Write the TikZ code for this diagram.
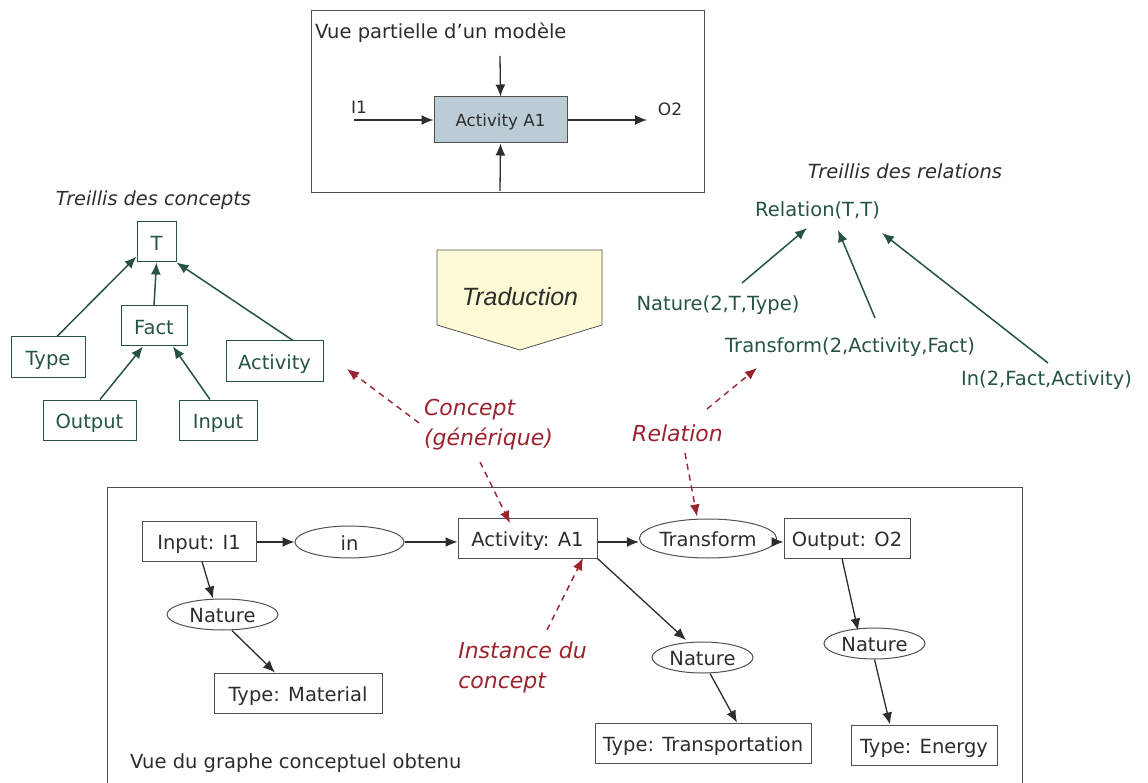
\documentclass[tikz,border=0pt]{standalone}
\usepackage{fontspec}
\setmainfont{DejaVu Sans}
\newfontfamily\arialf{Liberation Sans}
\usetikzlibrary{arrows.meta,shapes.geometric}
\definecolor{tgreen}{RGB}{38,84,64}
\definecolor{tred}{RGB}{155,35,45}
\definecolor{tgray}{RGB}{45,45,45}
\definecolor{bgray}{RGB}{80,80,80}
\definecolor{afill}{RGB}{187,204,213}
\definecolor{yfill}{RGB}{253,250,213}
\tikzset{
  fs/.style={font=\fontsize{19.5}{22}\selectfont},
  gbox/.style={draw=tgreen,line width=1pt,text=tgreen,fs,inner sep=0pt,minimum height=40pt,text height=17pt,text depth=0pt},
  gtext/.style={text=tgreen,fs,inner sep=0pt},
  garrow/.style={draw=tgreen,line width=1.5pt,-{Latex[length=12pt,width=10pt]}},
  bbox/.style={draw=bgray,line width=1pt,text=tgray,fs,inner sep=0pt,minimum height=40pt,text height=17pt,text depth=0pt},
  bell/.style={ellipse,draw=bgray,line width=1pt,text=tgray,fs,inner sep=0pt,text height=16pt,text depth=0pt},
  barrow/.style={draw=tgray,line width=1.3pt,-{Latex[length=12pt,width=10pt]}},
  rlabel/.style={text=tred,font=\fontsize{22}{30}\selectfont\itshape,inner sep=0pt,align=left},
  rarrow/.style={draw=tred,line width=1.4pt,dash pattern=on 6pt off 5pt,-{Latex[length=12pt,width=10pt]}},
  frame/.style={draw=bgray,line width=1pt},
}
\begin{document}
\begin{tikzpicture}[x=1pt,y=-1pt]
\useasboundingbox (0,0) rectangle (1148,783);

% ---------- top box ----------
\node[frame,minimum width=393pt,minimum height=182pt,inner sep=0pt] (topframe) at (507.5,102) {};
\node[anchor=west,text=tgray,fs,inner sep=0pt] (toptitle) at (315,33) {Vue partielle d’un modèle};
\node[draw=bgray,line width=1pt,fill=afill,text=tgray,font=\fontsize{16.7}{20}\selectfont,
      minimum width=133pt,minimum height=46pt,inner sep=0pt,text height=14pt,text depth=0pt] (A1box) at (500.5,120) {Activity A1};
\coordinate (topin) at (500,56);
\coordinate (botin) at (500,191);
\coordinate (i1s) at (354,120);
\coordinate (o2e) at (647,120);
\node[text=tgray,font=\fontsize{17}{20}\selectfont,inner sep=0pt] (I1lab) at (359,107) {I1};
\node[text=tgray,font=\fontsize{17}{20}\selectfont,inner sep=0pt] (O2lab) at (670,109) {O2};
\draw[barrow] (topin) -- (A1box.north);
\draw[barrow] (botin) -- (A1box.south);
\draw[barrow] (i1s) -- (A1box.west);
\draw[barrow] (A1box.east) -- (o2e);

% ---------- concept lattice ----------
\node[text=tgray,font=\fontsize{19.3}{22}\selectfont\itshape,inner sep=0pt] (ctitle) at (153.5,200) {Treillis des concepts};
\node[gbox,minimum width=39pt] (T) at (156.5,242) {T};
\node[gbox,minimum width=66pt] (Fact) at (154,326) {Fact};
\node[gbox,minimum width=74pt] (Type) at (48,357) {Type};
\node[gbox,minimum width=97pt] (Activity) at (274.5,361) {Activity};
\node[gbox,minimum width=93pt] (Output) at (89.5,420) {Output};
\node[gbox,minimum width=78pt] (Input) at (218,420) {Input};
\draw[garrow] ([xshift=9pt]Type.north) -- ([yshift=6pt]T.south west);
\draw[garrow] (Fact.north) -- (T.south);
\draw[garrow] ([xshift=18.5pt]Activity.north) -- (T.south east);
\draw[garrow] ([xshift=10.5pt]Output.north) -- ([xshift=-11pt]Fact.south);
\draw[garrow] ([xshift=-8pt]Input.north) -- ([xshift=19pt]Fact.south);

% ---------- relation lattice ----------
\node[text=tgray,font=\fontsize{19.5}{22}\selectfont\itshape,inner sep=0pt] (rtitle) at (905,171) {Treillis des relations};
\node[gtext] (Rel) at (817.5,210) {Relation(T,T)};
\node[gtext] (Nat) at (718,305) {Nature(2,T,Type)};
\node[gtext] (Tr) at (850,347) {Transform(2,Activity,Fact)};
\node[gtext] (In) at (1046.5,380) {In(2,Fact,Activity)};
\draw[garrow] ([shift={(24,-22)}]Nat.center) -- ([shift={(-10.5,18)}]Rel.center);
\draw[garrow] ([shift={(25,-29)}]Tr.center) -- ([shift={(20.5,20)}]Rel.center);
\draw[garrow] ([shift={(1.5,-17)}]In.center) -- ([shift={(64.5,23)}]Rel.center);

% ---------- Traduction ----------
\draw[draw=bgray,line width=0.8pt,fill=yfill] (437,250) -- (602,250) -- (602,325) -- (520,350) -- (437,325) -- cycle;
\node[text=tgray,font=\arialf\fontsize{25}{28}\selectfont\itshape,inner sep=0pt] (trad) at (520,297) {Traduction};

% ---------- bottom frame ----------
\draw[frame] (107,800) -- (107,487) -- (1022,487) -- (1022,800);
\node[anchor=west,text=tgray,fs,inner sep=0pt] (btitle) at (130,763) {Vue du graphe conceptuel obtenu};

\node[bbox,minimum width=114pt] (InI1) at (199,541) {Input: I1};
\node[bell,minimum width=109pt,minimum height=32pt] (inE) at (349.5,542) {in};
\node[bbox,minimum width=139pt] (ActA1) at (527.5,538) {Activity: A1};
\node[bell,minimum width=110pt,minimum height=39pt] (Tf) at (708,538.5) {Transform};
\node[bbox,minimum width=126pt] (OutO2) at (847,538) {Output: O2};
\node[bell,minimum width=111pt,minimum height=31pt] (Nat1) at (222.5,614.5) {Nature};
\node[bbox,minimum width=168pt] (TMat) at (298,693) {Type: Material};
\node[bell,minimum width=101pt,minimum height=31pt] (Nat2) at (702.5,657.5) {Nature};
\node[bbox,minimum width=216pt] (TTrans) at (703,743) {Type: Transportation};
\node[bell,minimum width=101pt,minimum height=31pt] (Nat3) at (874.5,643.5) {Nature};
\node[bbox,minimum width=146pt] (TEn) at (924,745) {Type: Energy};

\draw[barrow] ([yshift=-1pt]InI1.east) -- (inE.west);
\draw[barrow] (inE.east) -- (inE.east -| ActA1.west);
\draw[barrow] ([yshift=-4pt]ActA1.east) -- ([yshift=-3.5pt]Tf.west);
\draw[barrow] ([yshift=-3.5pt]Tf.east) -- ([yshift=-4pt]OutO2.west);
\draw[barrow] ([xshift=3pt]InI1.south) -- ([xshift=-9.5pt]Nat1.north);
\draw[barrow] ([xshift=9.5pt]Nat1.south) -- ([xshift=-23pt]TMat.north);
\draw[barrow] (ActA1.south east) -- ([shift={(-16.5,-17.5)}]Nat2.center);
\draw[barrow] ([xshift=7.5pt]Nat2.south) -- ([xshift=34pt]TTrans.north);
\draw[barrow] ([xshift=-5pt]OutO2.south) -- ([shift={(-16.5,-13)}]Nat3.center);
\draw[barrow] (Nat3.south) -- ([xshift=-34pt]TEn.north);

% ---------- red annotations ----------
\node[rlabel] (concept) at (488.5,425) {Concept\\(générique)};
\node[rlabel] (relation) at (677.5,433) {Relation};
\node[rlabel] (instance) at (522.5,667.5) {Instance du\\concept};
\coordinate (ctarget) at (347,369);
\coordinate (rtarget) at (757,368);
\draw[rarrow] ([shift={(-69.5,-2)}]concept.center) -- (ctarget);
\draw[rarrow] ([shift={(-8.5,37)}]concept.center) -- ([shift={(-17.5,-15)}]ActA1.center);
\draw[rarrow] ([shift={(29.5,-24)}]relation.center) -- (rtarget);
\draw[rarrow] ([shift={(7.5,20)}]relation.center) -- ([shift={(-11,-22)}]Tf.center);
\draw[rarrow] ([shift={(24.5,-37.5)}]instance.center) -- ([shift={(55.5,20)}]ActA1.center);
\end{tikzpicture}
\end{document}
